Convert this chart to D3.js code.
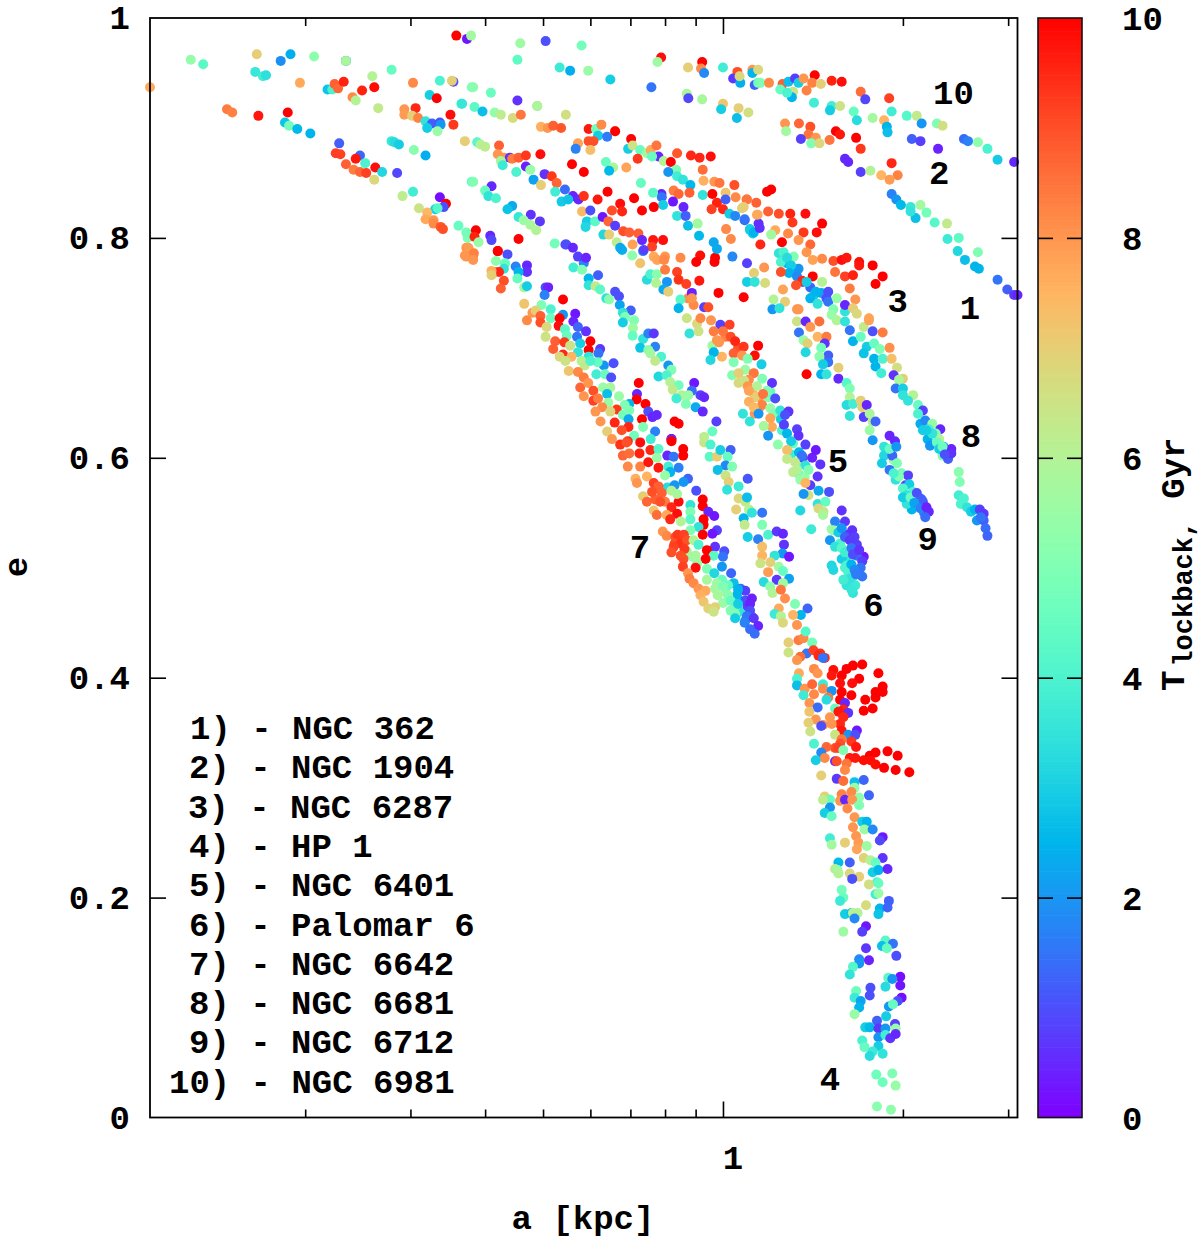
<!DOCTYPE html>
<html lang="en">
<head>
    <meta charset="UTF-8">
    <script src="https://cdnjs.cloudflare.com/ajax/libs/d3/7.8.5/d3.min.js"></script>
    <style>
        body{margin:0;background:#fff;}
        svg text{font-family:"Liberation Mono",monospace;font-weight:bold;fill:#000;}
    </style>
    <title>a-e diagram</title>
</head>
<body>
<script>
// every row is a [kpc], e, T lookback [Gyr]
var c10 = [[.110,.937,7.7],[.1287,.962,5.4],[.135,.958,4.3],[.166,.967,7],[.182,.961,1.9],[.189,.967,2.4],[.207,.965,5.3],[.165,.951,3.6],[.170,.947,3.8],[.172,.948,3.4],[.196,.941,7.7],[.218,.935,2.8],[.222,.935,4],[.224,.94,8.8],[.227,.936,8.7],[.232,.942,9.6],[.249,.934,9.6],[.261,.937,9.9],[.259,.947,6],[.279,.953,4.5],[.240,.928,8.2],[.243,.925,6],[.265,.918,6.3],[.234,.961,1.6],[.234,.961,5.8],[.303,.941,8.2],[.336,.943,4],[.354,.942,1],[.352,.943,7],[.38,.937,5],[.323,.93,3],[.332,.927,10],[.306,.918,9.5],[.365,.922,4],[.293,.917,8],[.293,.912,7.9],[.302,.911,7],[.309,.909,8.3],[.35,.912,9.8],[.354,.903,9.3],[.318,.906,3.5],[.326,.904,1.2],[.336,.905,1],[.337,.903,2],[.32,.9,3],[.333,.897,5.5],[.37,.888,7],[.358,.984,10],[.373,.981,.3],[.379,.984,5.7],[.458,.977,5.6],[.505,.979,1],[.58,.975,4.8],[.453,.962,4.4],[.533,.955,3.7],[.555,.952,2.4],[.595,.952,5.5],[.648,.944,3],[.759,.937,1.5],[.788,.964,9.8],[.777,.96,5.6],[.874,.955,7],[.923,.96,10],[.919,.954,8.2],[.93,.95,1.8],[1,.955,3.8],[1.057,.951,9],[1.04,.945,.7],[1.069,.941,2.4],[1.066,.947,6.8],[1.12,.953,8],[1.12,.95,2.5],[1.145,.953,6.8],[1.13,.939,1.2],[1.145,.941,4.5],[.87,.931,5.8],[.875,.927,.9],[.923,.926,5.8],[1,.922,7.2],[.993,.917,3],[1.062,.918,7],[1.103,.914,6.6],[1.055,.909,2.7],[1.155,.941,5],[1.194,.941,8.2],[1.258,.94,8.8],[1.287,.942,2.7],[1.247,.935,4.5],[1.32,.945,.8],[1.338,.941,3],[1.364,.945,8],[1.424,.948,10],[1.41,.941,8.3],[1.458,.94,7],[1.52,.943,9.6],[1.58,.942,9.8],[1.31,.933,6.5],[1.304,.928,2.5],[1.28,.932,4],[1.38,.934,8.3],[1.7,.933,8.6],[1.73,.926,.9],[1.897,.927,9.2],[1.42,.923,3.8],[1.52,.92,3.8],[1.57,.92,6.5],[1.51,.916,3],[1.655,.915,4.5],[1.675,.907,3.3],[1.78,.909,5.7],[1.86,.907,7.5],[1.915,.915,3.8],[2.03,.911,4.2],[2.11,.911,6.3],[2.15,.904,2],[2.28,.904,5],[2.33,.902,6.6],[2.53,.89,1.4],[2.57,.888,1.7],[2.67,.887,5.3],[2.77,.881,4],[2.88,.871,2.9],[3.07,.869,.5]];

var c2 = [[.148,.917,8.4],[.151,.914,8.3],[.167,.911,9.7],[.187,.914,10],[.185,.905,2.8],[.188,.902,4.8],[.194,.899,2.6],[.204,.895,2.5],[.228,.886,1.2],[.225,.877,9.2],[.229,.876,9.2],[.247,.875,1.3],[.243,.872,9.7],[.252,.868,4],[.234,.867,8.8],[.241,.862,8.4],[.247,.86,8.7],[.253,.859,9.2],[.262,.864,9.8],[.269,.86,3.2],[.261,.853,6.8],[.285,.859,.9],[.279,.888,3.6],[.282,.887,3.3],[.287,.885,3],[.304,.88,5.2],[.318,.875,2.4],[.382,.937,5.2],[.409,.932,4.6],[.366,.922,3.6],[.384,.919,4.3],[.396,.915,2.7],[.415,.914,5.4],[.425,.912,6.2],[.445,.909,6.7],[.453,.925,.6],[.489,.92,7.5],[.489,.92,5.8],[.459,.912,8.5],[.546,.912,6.6],[.496,.901,7.6],[.509,.9,8],[.52,.902,8.8],[.536,.9,8.9],[.596,.899,9.7],[.613,.899,4.7],[.626,.903,8.2],[.618,.893,3],[.64,.892,1.6],[.66,.897,8],[.66,.897,10],[1.27,.904,8],[1.275,.897,5.7],[1.34,.904,8.7],[1.4,.901,9],[1.39,.894,8.5],[1.35,.89,.8],[1.43,.891,8],[1.405,.886,5],[1.45,.886,6.8],[1.508,.889,8.5],[1.545,.897,10],[1.57,.894,9.7],[1.67,.891,10],[1.7,.881,9.3],[1.88,.901,2.5],[1.885,.896,2.7],[2.07,.89,1.2],[2.14,.888,.8],[2.29,.881,.4]];

var c1 = [[.38,.851,4.3],[.303,.842,3.8],[.291,.838,6.2],[.336,.837,.2],[.344,.831,10],[.341,.828,1],[.33,.826,3],[.333,.827,4.2],[.31,.827,6.5],[.32,.823,7.4],[.318,.817,7.7],[.328,.816,8],[.328,.813,8.2],[.337,.81,8.9],[.34,.808,9],[.361,.811,4.5],[.372,.805,5],[.374,.80,5],[.372,.791,8],[.372,.783,8],[.388,.887,4.2],[.393,.885,6],[.4,.883,6.2],[.422,.884,8.8],[.42,.876,8],[.43,.873,8],[.44,.873,.6],[.444,.872,8.4],[.425,.87,5.8],[.428,.866,3.7],[.455,.873,8.8],[.468,.875,9.3],[.495,.876,9.8],[.468,.865,.4],[.451,.86,4],[.476,.862,5.5],[.503,.858,.6],[.482,.853,2.2],[.517,.856,9.3],[.527,.85,8.7],[.496,.848,7],[.382,.851,5],[.41,.847,.5],[.4,.843,4.6],[.405,.838,3.5],[.417,.836,4],[.524,.842,3.8],[.544,.844,1.4],[.561,.838,.4],[.537,.833,2.9],[.551,.835,2.8],[.573,.835,.5],[1.6,.872,.5],[1.62,.869,.5],[1.7,.86,.8],[1.765,.861,6],[1.84,.857,7.5],[1.915,.868,9.5],[1.96,.857,8.3],[1.9,.853,7.9],[1.915,.84,1.7],[1.95,.835,2],[1.985,.83,2.6],[2.06,.828,3.6],[2.14,.83,5.7],[2.19,.823,4.8],[2.1,.818,2.7],[2.06,.824,3.5],[2.26,.814,4.2],[2.37,.813,6.3],[2.375,.799,3.7],[2.48,.8,4.4],[2.47,.788,3.2],[2.67,.787,5],[2.54,.78,2.7],[2.64,.774,2.5],[2.68,.772,2.5],[2.88,.762,1.5],[2.99,.753,1.2],[3.07,.748,.7],[3.11,.748,.5]];

var c3 = [[.596,.888,9],[.607,.888,9],[.572,.886,7.8],[.567,.881,1.7],[.6,.88,7.3],[.702,.89,10],[.694,.881,3],[.706,.884,6.5],[.727,.88,4.5],[.746,.877,5.6],[.757,.88,7.7],[.774,.884,8.5],[.78,.874,.5],[.761,.874,4.5],[.72,.872,9.3],[.796,.87,6],[.838,.877,8.9],[.818,.869,10],[.884,.875,9.5],[.914,.873,9.5],[.954,.874,9.8],[.835,.862,5],[.81,.86,2],[.838,.856,3.8],[.857,.853,3.5],[.882,.848,2.6],[.925,.862,8.6],[.928,.852,7.6],[.967,.851,8],[.987,.85,8.5],[1.045,.848,9],[.827,.843,8.4],[.843,.84,8.7],[.879,.841,8.8],[.925,.839,3.5],[.96,.84,10],[1.01,.841,7.2],[.977,.832,9.6],[1.01,.835,1.2],[1.05,.837,8.2],[1.097,.835,8.4],[1.137,.832,8.8],[.957,.826,9.2],[1,.826,9.5],[1.076,.827,7],[1.025,.822,3],[1.048,.82,1.8],[1.087,.816,1.2],[1.14,.821,7.7],[1.147,.813,.6],[1.109,.808,3],[1.122,.804,3],[1.012,.808,8.2],[1.031,.799,8.2],[.965,.796,2.3],[.977,.79,2.3],[1.155,.794,9.5],[1.037,.783,1.8],[.789,.84,.5],[.79,.837,1.5],[.764,.841,4.3],[.794,.83,3],[.825,.833,.3],[.766,.828,10],[.732,.825,10],[.71,.836,10],[.673,.831,9.8],[.678,.824,9.5],[.652,.825,9],[.641,.842,10],[.617,.835,9.7],[.585,.838,9.4],[.729,.85,4.5],[.559,.867,10],[.585,.86,10],[.637,.869,4.6],[.655,.864,5.9],[.645,.861,2.6],[.689,.864,7.8],[.838,.82,3.5],[.859,.828,.5],[.866,.82,1.2],[.874,.811,2.7],[.907,.813,5.7],[.912,.802,2.6],[1.185,.842,10],[1.204,.844,10],[1.095,.835,8.5],[1.083,.828,7],[1.19,.824,8.8],[1.24,.822,9],[1.296,.822,9.6],[1.307,.814,9.3],[1.374,.822,9.8],[1.465,.813,10],[1.364,.805,9.3],[1.435,.805,9.8],[1.285,.804,8.2],[1.338,.798,8],[1.4,.794,8.7],[1.255,.796,10],[1.223,.807,7.7],[1.204,.803,5.7],[1.143,.821,7.7],[1.087,.817,1.5],[1.11,.807,3],[1.126,.805,2.5],[1.152,.809,.6],[1.24,.786,3.5],[1.263,.787,4],[1.313,.783,5],[1.28,.777,2.5],[1.313,.771,2.5],[1.338,.772,2],[1.38,.787,8],[1.413,.78,7.8],[1.465,.781,8.2],[1.53,.779,9],[1.58,.78,9.8],[1.61,.782,9.7],[1.69,.778,9.9],[1.78,.775,10],[1.85,.765,10],[1.8,.758,10],[1.69,.775,9.7],[1.54,.769,8.5],[1.6,.765,9.2],[1.65,.766,9.6],[1.25,.778,4],[1.28,.782,3.3],[1.3,.775,3],[1.29,.768,2.5],[1.33,.765,1.8],[1.36,.76,1.3],[1.4,.755,1.3],[1.42,.748,3],[1.46,.75,2.2],[1.49,.745,1],[1.4,.745,2.5],[1.44,.74,3.5],[1.5,.742,1.5],[1.53,.735,5],[1.55,.725,6],[1.52,.73,5.5],[1.357,.761,9.5],[1.325,.757,9],[1.25,.769,9],[1.172,.773,8],[1.097,.777,.8],[1.127,.768,7],[1.176,.759,6.7],[1.097,.76,3],[1.13,.76,3.5],[1.413,.765,10],[1.38,.76,3],[1.43,.751,2.5],[1.5,.751,1],[1.465,.76,6],[1.55,.745,5.5],[1.63,.754,8.4],[1.665,.744,8],[1.26,.753,7.8],[1.215,.744,6],[1.27,.742,7],[1.083,.746,10],[1.21,.735,2],[1.243,.736,3.5],[1.338,.735,8]];

var c8 = [[1.6,.733,3.5],[1.6,.739,.5],[1.65,.736,7],[1.675,.731,6.8],[1.755,.727,7.8],[1.33,.735,8],[1.33,.724,6.5],[1.375,.724,.5],[1.34,.714,1.5],[1.4,.719,8],[1.45,.724,8.6],[1.44,.71,7.5],[1.49,.71,8.4],[1.364,.707,5.5],[1.385,.704,7],[1.48,.704,.6],[1.46,.7,4.8],[1.375,.696,3.2],[1.5,.693,1.2],[1.45,.692,5.3],[1.5,.687,1.5],[1.47,.685,3],[1.38,.676,10],[1.56,.682,7],[1.56,.672,.5],[1.46,.676,2.5],[1.49,.676,3.5],[1.6,.724,3.5],[1.63,.716,1.5],[1.65,.706,2.5],[1.72,.719,6.3],[1.755,.725,7.8],[1.78,.715,1],[1.7,.71,4.5],[1.85,.714,8.4],[1.74,.701,3],[1.79,.704,4.5],[1.83,.699,5],[1.9,.7,8.1],[1.72,.695,2.8],[1.79,.69,2.5],[1.85,.69,4],[1.8,.683,2.5],[1.84,.677,3.8],[1.915,.69,7.3],[1.955,.682,6.6],[1.93,.675,.6],[2,.672,7],[1.97,.671,5.8],[1.945,.663,1.5],[2,.663,3],[2,.657,3.5],[2.08,.657,6],[2.04,.652,3.5],[2.12,.648,4.5],[2.16,.643,.8],[2.12,.64,4],[2.14,.631,2.3],[2.18,.634,1.8],[2.24,.631,5.5],[2.31,.626,.5],[2.16,.625,3],[2.27,.622,5],[2.2,.617,2.5],[2.3,.617,6],[2.22,.611,2],[2.34,.61,2],[2.41,.608,.4],[2.33,.602,5],[2.38,.599,1.2],[2.41,.604,.6],[2.21,.626,4],[2.24,.622,3.5],[2.28,.614,4.5],[2.19,.625,3],[2.3,.608,3],[2.33,.61,4.6],[2.35,.603,1],[2.48,.587,5.2],[2.49,.578,5],[2.48,.566,3.8],[2.53,.563,4],[2.5,.558,4],[2.56,.555,3.5],[2.6,.551,3],[2.64,.553,2.5],[2.69,.553,.8],[2.73,.549,.7],[2.66,.543,2],[2.73,.543,1.2],[2.7,.546,1.5],[2.75,.536,1.4],[2.77,.529,1.3]];

var c9 = [[1.61,.668,4.2],[1.63,.663,5],[1.63,.655,6],[1.61,.648,3.3],[1.65,.649,3.8],[1.63,.638,3.5],[1.7,.652,7],[1.71,.646,7],[1.74,.648,.5],[1.72,.637,.8],[1.76,.64,5.8],[1.78,.633,6.2],[1.8,.633,1.3],[1.76,.625,5.5],[1.78,.616,2],[1.9,.62,.4],[1.94,.615,.5],[1.86,.61,3.5],[1.86,.602,3.2],[1.845,.595,3],[1.93,.598,5.5],[1.92,.602,1.3],[1.955,.595,5],[1.9,.589,1.5],[1.99,.586,4.8],[2.04,.584,.8],[1.945,.58,3.5],[2.02,.575,.9],[2.05,.576,3],[2.08,.569,4],[2.12,.558,2],[2.16,.56,1],[2.17,.55,1.5],[2.07,.553,2.5],[2.03,.558,3.5],[2,.572,4.2],[1.97,.583,5],[1.93,.586,4],[1.9,.608,4.5],[1.95,.61,2],[2.14,.563,1.5],[2.03,.566,3.5],[2,.564,3],[2.06,.564,4.5],[2.11,.568,1],[2.15,.562,1.2],[2.09,.559,2.2],[2.14,.554,1.7],[2.19,.555,.4],[2.21,.551,.5],[2.18,.546,1.4]];

var c5 = [[.93,.737,.8],[.945,.737,9],[.917,.727,8.2],[.955,.725,8],[.887,.745,8],[.99,.721,.8],[1.026,.721,9.2],[.965,.715,8.4],[1.01,.71,8.3],[.977,.707,8],[1,.715,8.5],[.985,.705,8],[1.03,.71,9],[1.06,.7,9],[1.048,.706,9.5],[1.083,.701,9.3],[1.145,.702,10],[1.13,.693,9.9],[1.042,.695,8.8],[1.076,.693,8],[.996,.692,7.5],[.965,.696,2.5],[.953,.689,3.2],[1.042,.687,5],[1.1,.69,5],[1.16,.685,3],[1.09,.68,5.5],[1.036,.675,5],[1.062,.677,7],[1.126,.677,8.5],[1.105,.671,8.2],[1.062,.668,6.8],[1.085,.67,6.5],[1.1,.665,8],[1.12,.66,7.5],[1.14,.665,6],[1.15,.655,8],[1.13,.655,7],[1.15,.645,7.5],[1.13,.64,8],[1.19,.655,5],[1.2,.66,4.5],[1.208,.668,.6],[1.163,.672,5],[1.185,.661,5],[1.105,.661,7.8],[1.167,.658,8.5],[1.223,.654,1],[1.105,.651,7.6],[1.163,.648,8.3],[1.126,.646,7.4],[1.147,.64,2],[1.2,.645,5.5],[1.215,.64,5],[1.25,.635,3],[1.247,.643,3.5],[1.287,.642,.6],[1.27,.639,1],[1.2,.636,7.8],[1.208,.628,7.7],[1.08,.64,3.5],[1.109,.633,3.5],[1.17,.629,5.8],[1.255,.625,4],[1.265,.63,.8],[1.19,.62,2],[1.28,.622,2.5],[1.33,.626,.8],[1.338,.62,.6],[1.374,.612,.8],[1.236,.612,5.3],[1.31,.613,4.5],[1.3,.603,3.8],[1.34,.605,2.5],[1.3,.615,3],[1.35,.595,5],[1.34,.585,4.5],[1.37,.582,5.5],[1.4,.575,.8],[1.36,.6,1],[1.41,.6,.4],[1.28,.607,7.3],[1.28,.599,6.3],[1.43,.607,.3],[1.355,.602,1.5],[1.455,.594,.6],[1.32,.596,6.3],[1.374,.593,3.5],[1.33,.589,6],[1.39,.589,5],[1.31,.587,6.2],[1.44,.583,.6],[1.347,.58,5.5],[1.374,.577,7.5],[1.39,.566,6.5],[1.364,.567,2],[1.445,.57,2.3],[1.505,.569,1],[1.347,.552,3.2],[1.405,.535,3.7],[1.44,.558,3.5],[1.445,.554,6.8],[1.484,.56,4.5],[1.473,.551,6.5],[1.58,.552,.6],[1.47,.548,5.8],[1.52,.535,5.5]];

var c6 = [[1.54,.542,1.7],[1.6,.542,.7],[1.645,.534,.6],[1.53,.534,5.5],[1.51,.525,2],[1.61,.53,.6],[1.57,.522,4],[1.54,.519,3.5],[1.675,.521,.8],[1.72,.51,.3],[1.675,.511,1.5],[1.61,.51,3.5],[1.52,.502,3.2],[1.53,.498,3.2],[1.58,.508,3],[1.61,.502,4],[1.62,.496,4],[1.71,.506,.8],[1.7,.5,1.5],[1.71,.492,1.5],[1.65,.492,3.7],[1.61,.484,3.5],[1.665,.484,3.7],[1.65,.477,3.5],[1.56,.532,3],[1.58,.536,2],[1.6,.528,1.2],[1.63,.525,.7],[1.66,.528,.8],[1.58,.518,4.2],[1.6,.514,3.8],[1.64,.518,1.5],[1.65,.512,1],[1.69,.516,.6],[1.6,.5,4],[1.64,.503,2.5],[1.66,.498,1.8],[1.63,.49,3.5],[1.67,.494,1.6],[1.59,.489,3.8],[1.64,.48,3.6],[.93,.614,6.5],[.95,.601,4.3],[.977,.601,7],[.99,.607,3],[1.03,.607,1.2],[1.018,.601,4.5],[1.01,.593,1.8],[1.036,.592,5],[.98,.589,2.7],[1.01,.584,6.5],[1.022,.578,7],[1.016,.571,3.5],[1.062,.574,3.7],[1.1,.581,1.1],[1.062,.563,6.8],[1.09,.56,6.4],[1.097,.564,2.7],[1.052,.553,7],[1.105,.553,6],[1.118,.55,3.5],[1.163,.55,1.5],[1.083,.545,2.5],[1.087,.539,6.3],[1.163,.539,5],[1.1,.528,3],[1.145,.526,1.7],[1.19,.53,4],[1.23,.533,.7],[1.26,.531,.5],[1.265,.521,.6],[1.258,.513,2],[1.29,.51,.3],[1.163,.519,7.3],[1.163,.511,7.5],[1.22,.511,3.5],[1.155,.504,6.5],[1.2,.505,7],[1.24,.501,5.7],[1.19,.496,7.9],[1.26,.497,4.5],[1.29,.49,2.2],[1.23,.489,.7],[1.17,.487,3.3],[1.26,.486,5.7],[1.2,.483,5.3],[1.21,.477,6],[1.25,.48,8.5],[1.27,.472,8.1],[1.24,.463,7.7],[1.32,.467,5],[1.385,.463,1.3],[1.22,.458,3.7],[1.25,.456,6],[1.35,.457,2.5],[1.31,.457,7.5],[1.26,.45,6.8],[1.33,.448,8],[.96,.624,4.5],[.953,.612,4],[.93,.619,6.2],[.975,.633,.8]];

var c7 = [[.375,.791,7.9],[.383,.786,8.3],[.37,.784,8],[.382,.78,8],[.42,.788,10],[.417,.779,5.3],[.432,.777,4.5],[.43,.772,3.5],[.45,.774,1.7],[.47,.775,.5],[.47,.769,.6],[.455,.769,2.5],[.453,.763,4.5],[.415,.769,9.3],[.422,.769,9.5],[.41,.77,7.6],[.41,.766,7],[.43,.761,9],[.425,.754,8.8],[.465,.755,5.8],[.47,.756,3],[.505,.755,1],[.51,.755,.4],[.503,.748,1.7],[.54,.744,10],[.465,.74,7.2],[.497,.739,5],[.515,.735,4],[.54,.73,2],[.566,.731,.3],[.48,.732,8],[.486,.734,7],[.47,.725,8.2],[.495,.729,8.8],[.495,.723,9],[.515,.727,4.7],[.533,.727,10],[.531,.72,9.8],[.562,.724,.4],[.507,.719,6.8],[.544,.717,4.3],[.572,.719,1.3],[.59,.715,.6],[.548,.711,4.5],[.505,.71,6.5],[.524,.706,8.8],[.543,.705,9.3],[.57,.71,1.5],[.6,.706,10],[.555,.702,6.5],[.52,.699,8.8],[.577,.704,3],[.623,.699,.7],[.596,.698,10],[.572,.696,3.5],[.54,.694,9.5],[.558,.692,7.5],[.533,.692,6.8],[.619,.695,1.5],[.596,.692,3.5],[.656,.686,1],[.632,.684,2],[.58,.688,6],[.617,.687,4.5],[.587,.684,6.3],[.545,.688,6.5],[.6,.688,4],[.552,.679,7.2],[.572,.678,8.2],[.585,.673,8.4],[.614,.676,3.8],[.635,.676,4.6],[.65,.673,1],[.577,.664,8.7],[.595,.668,8],[.607,.661,9],[.63,.664,5.5],[.648,.664,5.8],[.585,.656,8],[.64,.658,2.7],[.723,.668,10],[.718,.658,.5],[.67,.656,5.5],[.717,.653,10],[.607,.652,9.2],[.618,.654,8.4],[.643,.65,5.5],[.742,.649,10],[.697,.649,2.5],[.685,.648,5],[.628,.646,8.2],[.612,.642,8],[.664,.644,9.3],[.648,.642,6.8],[.68,.639,4.8],[.75,.642,1],[.775,.639,.5],[.762,.637,.5],[.697,.643,5],[.732,.635,10],[.695,.635,2.3],[.624,.633,8],[.659,.632,9.5],[.83,.633,10],[.843,.631,10],[.695,.628,9.5],[.735,.628,5],[.677,.625,9],[.64,.624,7],[.77,.624,1.7],[.71,.62,4.7],[.757,.617,3.8],[.652,.617,8],[.82,.617,10],[.82,.617,.5],[.693,.615,9.5],[.673,.612,9.4],[.69,.614,9],[.727,.614,9.8],[.68,.602,8.7],[.697,.604,8.6],[.725,.604,9.6],[.756,.607,9.5],[.78,.608,4.2],[.693,.592,8.2],[.727,.592,8.3],[.75,.596,9.7],[.78,.591,9.7],[.775,.6,5.5],[.807,.602,.5],[.827,.601,1.5],[.858,.608,10],[.858,.602,10],[.82,.615,10],[.81,.592,3.8],[.816,.587,2.5],[.843,.591,1.7],[.714,.581,7.6],[.746,.583,7.5],[.718,.577,8],[.766,.577,9.2],[.8,.584,5.5],[.807,.573,3.3],[.83,.575,2],[.874,.581,1.3],[.859,.578,2],[.902,.57,1],[.78,.574,8.8],[.79,.568,8.8],[.77,.562,8.8],[.8,.56,8.4],[.82,.57,6],[.761,.569,9],[.735,.565,7],[.746,.56,8.7],[.785,.56,9],[.843,.56,9.8],[.838,.567,5.8],[.925,.562,10],[.925,.556,10],[.882,.557,3.5],[.882,.551,5],[.766,.552,7.2],[.775,.548,8.6],[.82,.555,9.5],[.838,.549,9.8],[.945,.551,.5],[.967,.547,.3],[.805,.548,7.7],[.816,.544,9.5],[.928,.544,10],[.928,.539,10],[.85,.542,6],[.882,.544,4.3],[.91,.537,3.5],[.882,.534,5],[.977,.534,.8],[.96,.531,.3],[.793,.533,8],[.805,.529,8.2],[.832,.528,9],[.925,.53,10],[.84,.53,9.3],[.86,.53,9.2],[.83,.522,9],[.85,.522,9.4],[.87,.525,9],[.89,.51,5.5],[.87,.515,5.8],[.893,.525,6],[.827,.519,9.2],[.862,.517,9.3],[.91,.521,4],[.97,.519,.6],[1.005,.515,1],[.94,.516,10],[.82,.514,9],[.85,.511,9],[.9,.511,5.8],[.965,.511,4.3],[1,.51,1.5],[.935,.508,10],[.859,.508,9],[.857,.501,9.2],[.905,.504,5.5],[.94,.499,5],[.996,.501,2],[.9,.5,9.8],[.967,.495,3.2],[1.032,.495,1.3],[.874,.495,8],[.879,.49,8.4],[.94,.489,5.8],[.996,.489,4.5],[.893,.486,8.2],[.977,.486,5.5],[1.042,.486,2.7],[.91,.481,8],[.935,.479,7.7],[.97,.481,5.7],[1.01,.478,5.7],[1.07,.481,1.5],[1.09,.479,.8],[1.055,.475,2.5],[.917,.475,7.6],[1.02,.484,4.5],[1,.483,5],[1.02,.475,5.2],[1.06,.48,2.5],[1.07,.47,2.5],[1.09,.47,1],[1.07,.46,3.5],[1.1,.465,.8],[1.09,.452,2],[1.05,.465,4.8],[1.12,.455,1.2],[.98,.475,5.8],[1,.468,5.5],[1.03,.47,4.5],[1.06,.467,3],[1.118,.472,.4],[1.11,.467,.4],[.928,.469,7.2],[.97,.464,7],[.945,.463,6.9],[.965,.46,6.5],[1.03,.461,5],[1.048,.458,5],[1.11,.461,1],[1.048,.454,3],[1.097,.456,1.5],[1.126,.454,.7],[1.087,.45,1.7],[1.145,.447,.4],[1.11,.444,1.4],[1.13,.44,1.4]];

// middle track between 3 and 7
var c7b = [[.562,.773,3.8],[.585,.777,1.7],[.581,.771,5],[.618,.766,1.2],[.596,.763,2.5],[.596,.757,3.5],[.612,.756,6.3],[.623,.753,4.3],[.66,.751,1],[.67,.747,1],[.638,.745,3.5],[.645,.744,5.2],[.672,.739,2.2],[.701,.734,1.2],[.68,.732,3.5],[.686,.728,5],[.71,.725,5],[.68,.723,3],[.707,.718,5.6],[.706,.711,4.5],[.735,.708,3.5],[.75,.713,1.7],[.766,.713,.7],[.727,.7,2.8],[.77,.701,1.7],[.75,.698,5.2],[.756,.695,5.7],[.788,.692,4],[.77,.688,6.3],[.81,.684,2],[.82,.68,5],[.78,.674,3.2],[.805,.675,4],[.816,.669,6],[.843,.666,4.7],[.824,.662,6.3],[.895,.668,.3],[.887,.661,1.4],[.853,.657,6],[.917,.657,.8],[.93,.655,.5],[.836,.654,3.8],[.875,.657,5.5],[.867,.649,5],[.9,.646,2.3],[.925,.642,.5],[.545,.794,.9],[.523,.795,4.8],[.547,.794,1],[.561,.791,.5],[.572,.783,.8],[.59,.782,.4],[.408,.802,.5],[.41,.798,.9],[.373,.804,4.8],[.386,.807,10],[.384,.801,9.6],[.39,.796,5.5],[.375,.79,8],[.382,.784,8.5],[.42,.788,10],[.436,.785,1],[.455,.799,10]];

var c3b = [[.444,.829,2.3],[.436,.826,2.8],[.455,.819,3.6],[.477,.821,.6],[.494,.815,.7],[.464,.816,5.5],[.476,.812,5.8],[.487,.807,6],[.581,.824,7.4],[.6,.825,1],[.592,.815,3],[.611,.815,4.3],[.629,.819,.3],[.643,.815,8.7],[.66,.811,.8],[.589,.81,3.2],[.631,.803,3.2],[.645,.803,7],[.664,.796,6.2],[.681,.806,9],[.697,.805,8.8],[.722,.804,8.8],[.678,.789,2.5],[.706,.794,7.8],[.732,.798,.5],[.764,.798,9.7],[.794,.798,9.8],[.761,.792,9.2],[.735,.788,1.7],[.705,.784,5.3],[.766,.783,7.7],[.8,.783,8],[.849,.782,8.2],[.916,.784,9.9],[.97,.782,10],[.673,.791,2.3],[.737,.789,.8],[.727,.777,7.2],[.776,.78,7.8],[.797,.78,8.2],[.746,.762,3.3],[.756,.767,4],[.775,.767,5.2],[.8,.771,8.4],[.773,.759,6],[.806,.76,2],[.795,.753,2.3],[.81,.751,7],[.838,.769,9.2],[.843,.762,9.4],[.868,.758,9.2],[.913,.761,9.7],[.902,.778,10],[.968,.778,10],[.983,.75,10],[.874,.745,8.2],[.887,.75,.4],[.893,.739,8.2],[.849,.744,4.2],[.843,.736,2.5],[.87,.727,6.5],[.905,.722,6.8],[.879,.713,3.5],[.91,.715,6.5],[.96,.702,5.7]];

var c4 = [[1.287,.432,7],[1.287,.423,6.5],[1.338,.434,8.4],[1.364,.436,8.2],[1.375,.442,4.2],[1.41,.432,4.8],[1.38,.422,1.5],[1.417,.425,9.2],[1.455,.422,9.4],[1.347,.419,8.6],[1.48,.418,9.5],[1.33,.416,8],[1.445,.42,9.5],[1.47,.418,1.5],[1.42,.408,8.2],[1.44,.404,8],[1.34,.404,7.7],[1.53,.407,9.9],[1.52,.402,9.7],[1.61,.408,10],[1.65,.411,10],[1.71,.412,10],[1.58,.402,10],[1.82,.404,10],[1.69,.399,10],[1.57,.395,9.8],[1.645,.395,9.8],[1.85,.392,10],[1.33,.399,4],[1.33,.393,2.7],[1.37,.39,8],[1.41,.394,8.7],[1.47,.394,3.7],[1.47,.39,8.2],[1.52,.388,2],[1.58,.387,10],[1.8,.387,10],[1.85,.387,10],[1.364,.384,3.7],[1.42,.385,8.2],[1.64,.384,10],[1.8,.382,10],[1.73,.38,10],[1.5,.382,8.5],[1.57,.38,10],[1.49,.38,3.3],[1.395,.377,8],[1.6,.377,.5],[1.44,.373,1.4],[1.395,.369,7.2],[1.54,.372,4.5],[1.59,.371,9.6],[1.72,.37,10],[1.78,.372,10],[1.56,.369,9.7],[1.62,.368,.6],[1.51,.364,8],[1.43,.362,8],[1.59,.364,9.5],[1.39,.359,7],[1.47,.357,8.2],[1.46,.356,1],[1.57,.358,9.5],[1.52,.358,8],[1.58,.352,9.7],[1.4,.351,6.5],[1.675,.352,.3],[1.62,.348,2],[1.665,.348,1],[1.54,.348,6.5],[1.58,.344,8.5],[1.64,.342,9.3],[1.42,.34,4],[1.57,.34,9],[1.54,.336,9],[1.49,.337,8.7],[1.56,.336,9.2],[1.67,.337,9.7],[1.46,.332,1.8],[1.59,.334,5],[1.885,.333,10],[1.8,.332,10],[1.76,.329,10],[1.96,.329,10],[1.63,.327,9.7],[1.665,.327,9.7],[1.72,.325,9.9],[1.765,.325,9.9],[1.8,.321,9.9],[1.86,.318,10],[1.945,.316,10],[2.05,.314,10],[1.48,.327,8.2],[1.43,.325,3],[1.54,.324,.5],[1.55,.324,9],[1.61,.322,8.5],[1.6,.316,8.2],[1.46,.311,7],[1.55,.308,.7],[1.59,.306,8.6],[1.66,.305,2.7],[1.72,.307,1.3],[1.66,.3,5.5],[1.755,.293,1.3],[1.58,.294,8.3],[1.64,.296,8.2],[1.69,.291,5.3],[1.48,.292,7],[1.51,.289,4.5],[1.47,.289,6.2],[1.57,.288,8],[1.6,.289,.5],[1.645,.289,8],[1.69,.284,5],[1.51,.282,2],[1.615,.281,8.2],[1.48,.277,3],[1.52,.274,4.5],[1.66,.273,8],[1.71,.269,3],[1.74,.269,2.5],[1.65,.264,8],[1.725,.262,5.6],[1.78,.262,1.8],[1.67,.256,8],[1.85,.255,.3],[1.83,.252,.9],[1.51,.254,3.8],[1.685,.25,7.9],[1.6,.25,7],[1.52,.248,5.7],[1.74,.247,5.6],[1.675,.244,7.8],[1.72,.236,6.9],[1.85,.236,.6],[1.56,.232,2.6],[1.63,.232,1.2],[1.765,.234,6],[1.8,.232,4.5],[1.54,.226,6.3],[1.555,.225,5.5],[1.78,.223,3],[1.82,.225,2.5],[1.885,.226,.5],[1.63,.222,6.8],[1.69,.219,7],[1.645,.217,1],[1.81,.214,4],[1.56,.222,6],[1.755,.212,6.6],[1.82,.213,4.5],[1.8,.203,3.8],[1.82,.204,5.5],[1.58,.207,4.8],[1.59,.2,4.6],[1.57,.197,3.7],[1.895,.197,1.2],[1.83,.19,2.5],[1.885,.191,1.3],[1.82,.185,2.8],[1.735,.193,6.7],[1.6,.185,3],[1.64,.186,2.7],[1.65,.186,6],[1.68,.186,6],[1.66,.181,1.8],[1.735,.174,.3],[1.71,.169,.8],[1.59,.169,5.6],[1.87,.161,4.3],[1.925,.158,1.5],[1.845,.156,2.7],[1.88,.154,4.5],[1.735,.154,.7],[1.95,.147,1],[1.69,.144,1.8],[1.755,.143,.4],[1.69,.14,2],[1.65,.137,4.2],[1.63,.13,3.5],[1.98,.128,.2],[1.89,.127,4.3],[1.92,.126,2],[1.87,.119,3.3],[1.98,.12,.3],[1.765,.118,1],[1.67,.115,4.7],[1.66,.109,3.7],[1.76,.111,1],[1.7,.106,2.2],[1.99,.109,.2],[1.96,.106,1],[1.895,.101,2],[1.925,.103,4.5],[1.69,.1,2.5],[1.66,.094,5.5],[1.875,.092,3],[1.81,.088,1.2],[1.94,.085,.8],[1.73,.082,3],[1.76,.082,2.6],[1.82,.081,.7],[1.87,.081,2],[1.945,.081,5.5],[1.82,.073,2],[1.87,.075,3.8],[1.905,.072,.6],[1.945,.076,.5],[1.71,.07,4],[1.725,.064,4.5],[1.82,.065,3],[1.78,.06,3.7],[1.76,.056,3.3],[1.85,.058,3.5],[1.805,.039,4.7],[1.92,.04,5],[1.85,.032,4.7],[1.945,.029,5.5],[1.81,.01,5.2],[1.91,.007,5.3]];

var clusters = [c10, c2, c1, c3b, c7b, c3, c8, c9, c5, c6, c7, c4];

var legendLines = ["1) - NGC 362","2) - NGC 1904","3) - NGC 6287","4) - HP 1","5) - NGC 6401","6) - Palomar 6","7) - NGC 6642","8) - NGC 6681","9) - NGC 6712","10) - NGC 6981"];
var legendX = [190,189,188,189,189,189,189,189,189,169];
var clusterLabels = ["10","2","1","3","8","5","9","6","7","4"];
var clusterLabelA = [2.43,2.30,2.59,1.96,2.60,1.557,2.20,1.785,.726,1.51];
var clusterLabelE = [.922,.849,.726,.733,.61,.587,.516,.456,.509,.025];
var eTicks = [0,.2,.4,.6,.8,1];
var tTicks = [0,2,4,6,8,10];
var aMajor = [1];
var aMinor = [.2,.3,.4,.5,.6,.7,.8,.9,2,3];

var width = 1200, height = 1243, fs = 34;
var left = 150, right = 1017.5, top_ = 18, bottom = 1117.5;
var barL = 1038, barR = 1082;

var x = d3.scaleLog().domain([.11,3.11]).range([left,right]);
var y = d3.scaleLinear().domain([0,1]).range([bottom,top_]);
var tScale = d3.scaleLinear().domain([0,10]).range([bottom,top_]);

// gnuplot palette rgbformulae 33,13,10
function rainbow(t){
    var v = t/10;
    var r = Math.min(1,Math.abs(2*v-.5));
    var g = Math.sin(v*Math.PI);
    var b = Math.cos(v*Math.PI/2);
    return d3.rgb(r*255,g*255,b*255).formatHex();
}

var svg = d3.select("body").append("svg")
    .attr("width",width)
    .attr("height",height)
    .style("display","block");

var defs = svg.append("defs");
defs.append("filter").attr("id","soft")
    .append("feGaussianBlur").attr("stdDeviation",.45);

// points, one group per cluster
var pts = svg.append("g").attr("filter","url(#soft)");
clusters.forEach(function(rows){
    pts.append("g").selectAll("circle")
        .data(rows)
        .enter()
        .append("circle")
        .attr("cx",function(d){return x(d[0]);})
        .attr("cy",function(d){return y(d[1]);})
        .attr("r",5)
        .attr("fill",function(d){return rainbow(d[2]);});
});

// frame and ticks
function styleAxis(g){
    g.selectAll("path").attr("stroke","none");
    g.selectAll("line").attr("stroke","#000").attr("stroke-width",1.6);
    g.selectAll("text").remove();
}
svg.append("g").attr("transform","translate(0,"+bottom+")")
    .call(d3.axisTop(x).tickValues(aMajor).tickSize(16).tickSizeOuter(0)).call(styleAxis);
svg.append("g").attr("transform","translate(0,"+bottom+")")
    .call(d3.axisTop(x).tickValues(aMinor).tickSize(8).tickSizeOuter(0)).call(styleAxis);
svg.append("g").attr("transform","translate(0,"+top_+")")
    .call(d3.axisBottom(x).tickValues(aMajor).tickSize(16).tickSizeOuter(0)).call(styleAxis);
svg.append("g").attr("transform","translate(0,"+top_+")")
    .call(d3.axisBottom(x).tickValues(aMinor).tickSize(8).tickSizeOuter(0)).call(styleAxis);
svg.append("g").attr("transform","translate("+left+",0)")
    .call(d3.axisRight(y).tickValues(eTicks.slice(1,5)).tickSize(16).tickSizeOuter(0)).call(styleAxis);
svg.append("g").attr("transform","translate("+right+",0)")
    .call(d3.axisLeft(y).tickValues(eTicks.slice(1,5)).tickSize(16).tickSizeOuter(0)).call(styleAxis);
svg.append("rect")
    .attr("x",left).attr("y",top_)
    .attr("width",right-left).attr("height",bottom-top_)
    .attr("fill","none").attr("stroke","#000").attr("stroke-width",1.8);

svg.selectAll(".ey").data(eTicks).enter().append("text")
    .attr("x",130).attr("y",function(d){return y(d)+11;})
    .attr("text-anchor","end").attr("font-size",fs)
    .text(function(d){return d;});
svg.append("text").attr("x",733).attr("y",1169)
    .attr("text-anchor","middle").attr("font-size",fs).text("1");
svg.append("text").attr("x",583).attr("y",1229)
    .attr("text-anchor","middle").attr("font-size",fs).text("a [kpc]");
svg.append("text").attr("transform","translate(27,567) rotate(-90)")
    .attr("text-anchor","middle").attr("font-size",fs).text("e");

// legend
svg.selectAll(".leg").data(legendLines).enter().append("text")
    .attr("x",function(d,i){return legendX[i];})
    .attr("y",function(d,i){return 739+39.3*i;})
    .attr("font-size",fs)
    .attr("xml:space","preserve")
    .text(function(d){return d;});

// numbers next to the tracks
svg.selectAll(".num").data(clusterLabels).enter().append("text")
    .attr("x",function(d,i){return x(clusterLabelA[i]);})
    .attr("y",function(d,i){return y(clusterLabelE[i]);})
    .attr("text-anchor","middle").attr("font-size",fs)
    .text(function(d){return d;});

// colour bar
var barSteps = d3.range(0,10,.04);
svg.append("g").selectAll("rect").data(barSteps).enter().append("rect")
    .attr("x",barL)
    .attr("y",function(d){return tScale(d+.04);})
    .attr("width",barR-barL)
    .attr("height",function(d){return tScale(d)-tScale(d+.04)+.6;})
    .attr("fill",function(d){return rainbow(d+.02);});
svg.append("rect")
    .attr("x",barL).attr("y",top_)
    .attr("width",barR-barL).attr("height",bottom-top_)
    .attr("fill","none").attr("stroke","#111").attr("stroke-width",1.6);
svg.append("g").attr("transform","translate("+barL+",0)")
    .call(d3.axisRight(tScale).tickValues(tTicks.slice(1,5)).tickSize(15).tickSizeOuter(0)).call(styleAxis);
svg.append("g").attr("transform","translate("+barR+",0)")
    .call(d3.axisLeft(tScale).tickValues(tTicks.slice(1,5)).tickSize(15).tickSizeOuter(0)).call(styleAxis);
svg.selectAll(".ty").data(tTicks).enter().append("text")
    .attr("x",1122).attr("y",function(d){return tScale(d)+12;})
    .attr("font-size",fs)
    .text(function(d){return d;});

var tLabel = svg.append("text")
    .attr("transform","translate(1184,691) rotate(-90)")
    .attr("font-size",fs);
tLabel.append("tspan").text("T");
tLabel.append("tspan").attr("dy",8).attr("dx",4).attr("font-size",27).text("lockback,");
tLabel.append("tspan").attr("dy",-8).attr("dx",22).text("Gyr");
</script>
</body>
</html>
